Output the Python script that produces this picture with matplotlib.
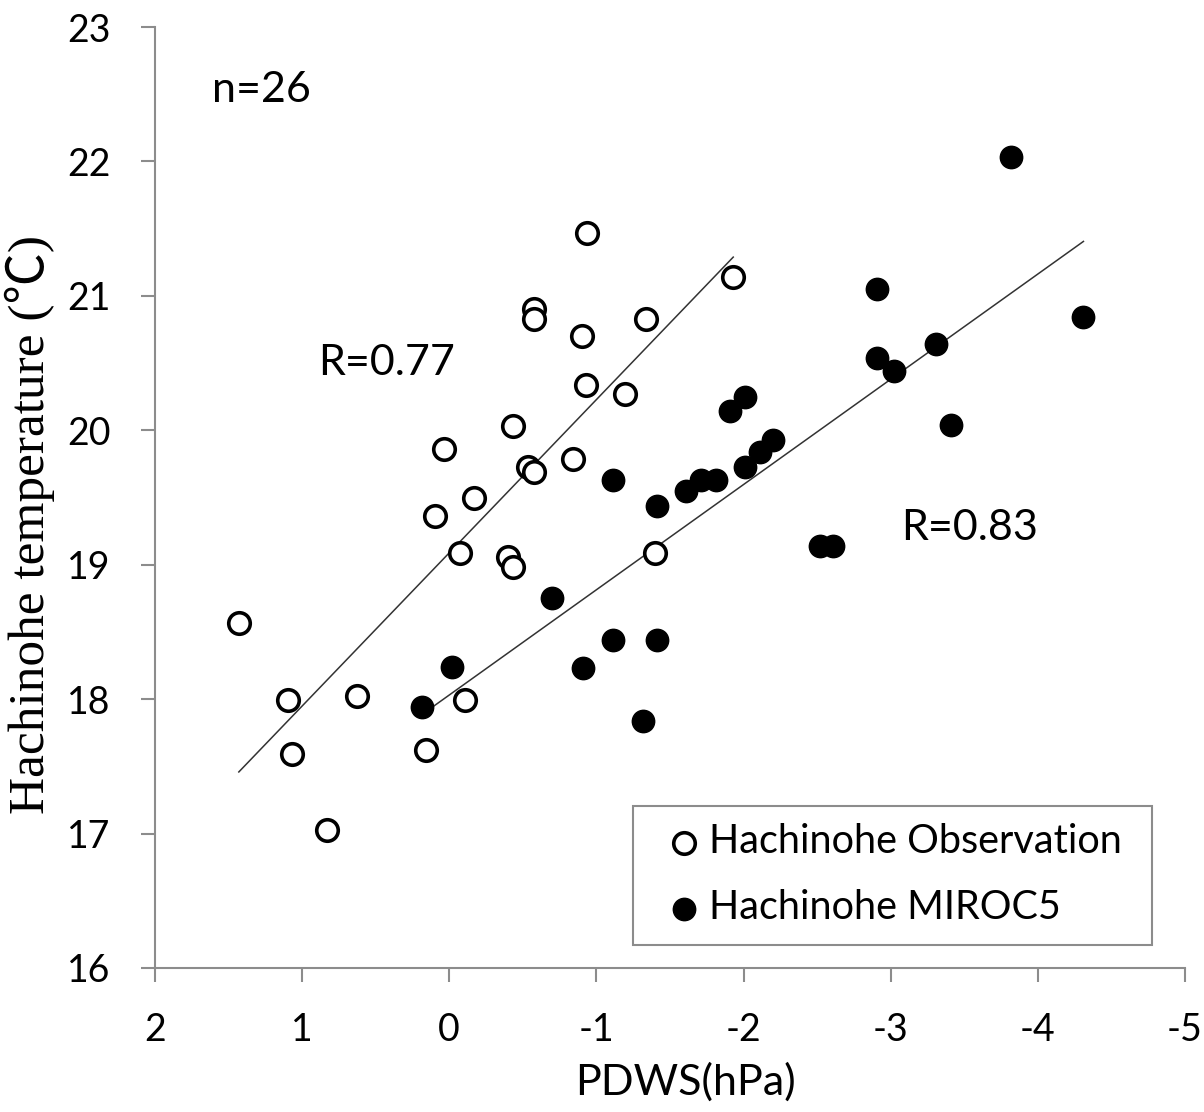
import numpy as np
import matplotlib
matplotlib.use("Agg")
import matplotlib.pyplot as plt
from matplotlib.patches import Rectangle

# Hachinohe observation (open circles)
obs_pdws = [1.43, 1.095, 1.07, 0.83, 0.626, 0.156, -0.109, -0.075, 0.095, 0.034,
            -0.17, -0.40, -0.435, -0.435, -0.537, -0.578, -0.578, -0.578, -0.905,
            -0.932, -0.939, -0.844, -1.197, -1.34, -1.40, -1.93]
obs_temp = [18.57, 17.99, 17.59, 17.03, 18.02, 17.62, 17.99, 19.09, 19.36, 19.86,
            19.50, 19.06, 18.98, 20.03, 19.73, 19.69, 20.90, 20.83, 20.70,
            20.34, 21.47, 19.79, 20.27, 20.83, 19.09, 21.14]

# Hachinohe MIROC5 (filled circles)
mir_pdws = [0.184, -0.02, -0.70, -0.91, -1.116, -1.116, -1.32, -1.41, -1.41, -1.61,
            -1.71, -1.816, -1.905, -2.01, -2.01, -2.11, -2.20, -2.517, -2.61, -2.91,
            -2.905, -3.02, -3.31, -3.41, -3.82, -4.31]
mir_temp = [17.94, 18.24, 18.75, 18.23, 18.44, 19.63, 17.84, 18.44, 19.44, 19.55,
            19.63, 19.63, 20.14, 19.73, 20.25, 19.84, 19.93, 19.14, 19.14, 21.05,
            20.54, 20.44, 20.64, 20.04, 22.03, 20.84]

xticks = [2, 1, 0, -1, -2, -3, -4, -5]
yticks = [16, 17, 18, 19, 20, 21, 22, 23]

plt.rcParams['font.family'] = ['Lato', 'DejaVu Sans']
grey = '#8c8c8c'

fig = plt.figure(figsize=(12.04, 11.12), dpi=100)
ax = fig.add_axes([0.1287, 0.1295, 0.8555, 0.8462])

ax.scatter(obs_pdws, obs_temp, s=240, facecolors='white', edgecolors='black',
           linewidths=2.6, zorder=3, label='Hachinohe Observation')
ax.scatter(mir_pdws, mir_temp, s=260, facecolors='black', edgecolors='black',
           linewidths=1, zorder=3, label='Hachinohe MIROC5')

# linear fits over each series' range
for xs, ys in [(obs_pdws, obs_temp), (mir_pdws, mir_temp)]:
    xs = np.array(xs)
    a, b = np.polyfit(xs, ys, 1)
    xl = np.array([xs.min(), xs.max()])
    ax.plot(xl, a * xl + b, color='#333333', lw=1.1, zorder=2)

ax.set_xlim(2, -5)
ax.set_ylim(16, 23)
ax.set_xticks(xticks)
ax.set_yticks(yticks)
ax.set_xticklabels([str(t) for t in xticks])
ax.tick_params(labelsize=27, direction='out', length=10, width=1.5, color=grey)
ax.tick_params(axis='x', pad=22)
ax.tick_params(axis='y', pad=22)

for s in ['top', 'right']:
    ax.spines[s].set_visible(False)
for s in ['left', 'bottom']:
    ax.spines[s].set_color(grey)
    ax.spines[s].set_linewidth(1.5)

ax.set_xlabel('PDWS(hPa)', fontsize=31)
ax.xaxis.set_label_coords(0.5146, -0.100)
ax.set_ylabel('Hachinohe temperature (℃)', fontsize=37,
              family=['Liberation Serif', 'Noto Sans CJK JP'])
ax.yaxis.set_label_coords(-0.097, 0.471)

ax.text(1.61, 22.53, 'n=26', fontsize=31, va='center', ha='left')
ax.text(0.891, 20.5, 'R=0.77', fontsize=31, va='center', ha='left')
ax.text(-3.07, 19.27, 'R=0.83', fontsize=31, va='center', ha='left')

# legend box drawn separately so its padding matches
ax.add_patch(Rectangle((0.464, 0.0244), 0.504, 0.1476, transform=ax.transAxes,
                       facecolor='white', edgecolor=grey, lw=1.5, zorder=4))
ax.legend(loc='center', bbox_to_anchor=(0.72, 0.099), fontsize=28.5,
          frameon=False, handletextpad=0.33, borderpad=0, labelspacing=0.74,
          handlelength=0.6, borderaxespad=0).set_zorder(5)

fig.savefig('out.png', dpi=100, facecolor='white')
